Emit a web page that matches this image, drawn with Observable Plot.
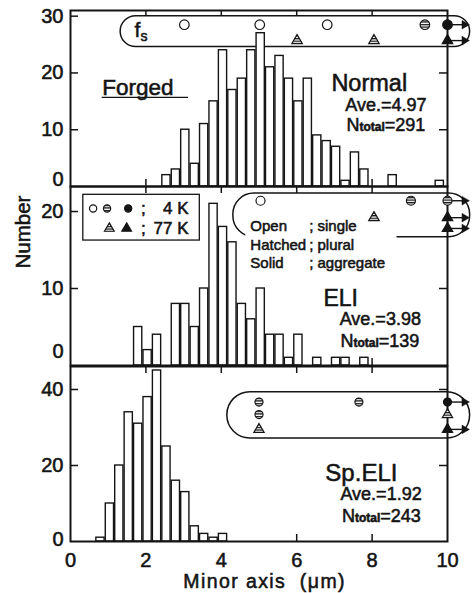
<!DOCTYPE html>
<html>
<head>
<meta charset="utf-8">
<script src="https://cdn.jsdelivr.net/npm/d3@7"></script>
<script src="https://cdn.jsdelivr.net/npm/@observablehq/plot@0.6"></script>
<style>
html,body{margin:0;padding:0;background:#fff;}
#chart{position:relative;width:473px;height:593px;overflow:hidden;background:#fff;}
#chart svg{position:absolute;left:0;overflow:visible;background:transparent;}
</style>
</head>
<body>
<div id="chart"></div>
<script>
// ---------------- data ----------------
const binWidth = 0.25;
const xTicks = [0, 2, 4, 6, 8, 10];

const normalBins   = [2.42,2.67,2.92,3.17,3.42,3.67,3.92,4.17,4.42,4.67,4.92,5.17,5.42,5.67,5.92,6.17,6.42,6.67,6.92,7.17,7.42,7.67,8.42,9.67];
const normalCounts = [2,   3,   10,  4,   11,  15,  24,  17,  19,  24,  27,  21,  23,  19,  15,  19,  9,   8,   7,   1,   6,   3,   2,   1];

const eliBins   = [1.67,1.92,2.17,2.67,2.92,3.17,3.42,3.67,3.92,4.17,4.42,4.67,4.92,5.17,5.42,5.67,5.92,6.42,6.92,7.17,7.67];
const eliCounts = [5,   2,   4,   8,   8,   5,   10,  21,  18,  16,  8,   6,   10,  4,   4,   1,   4,   1,   1,   1,   1];

const spBins   = [0.67,0.92,1.17,1.42,1.67,1.92,2.17,2.42,2.67,2.92,3.17,3.42,3.67,3.92];
const spCounts = [1,   10,  20,  34,  31,  38,  45,  25,  16,  13,  4,   2,   1,   2];

const normalYTicks = [0, 10, 20, 30];
const eliYTicks = [0, 10, 20];
const spYTicks = [0, 20, 40];

const panelNames = ["Normal", "ELI", "Sp.ELI"];
const panelAve = ["Ave.=4.97", "Ave.=3.98", "Ave.=1.92"];
const panelNtotal = ["Ntotal=291", "Ntotal=139", "Ntotal=243"];

// fracture-strain (fs) markers: x = minor axis, row = level inside the band
const normalMarks = [
  {x: 3.02, row: 28.5, kind: "open", shape: "circle"},
  {x: 5.02, row: 28.5, kind: "open", shape: "circle"},
  {x: 6.81, row: 28.5, kind: "open", shape: "circle"},
  {x: 9.40, row: 28.5, kind: "hatched", shape: "circle"},
  {x: 10.0, row: 28.5, kind: "solid", shape: "circle", arrow: true},
  {x: 6.01, row: 25.7, kind: "hatched", shape: "triangle"},
  {x: 8.05, row: 25.7, kind: "hatched", shape: "triangle"},
  {x: 10.0, row: 25.7, kind: "solid", shape: "triangle", arrow: true}
];
const eliMarks = [
  {x: 5.04, row: 21.4, kind: "open", shape: "circle"},
  {x: 9.03, row: 21.4, kind: "hatched", shape: "circle"},
  {x: 10.0, row: 21.4, kind: "hatched", shape: "circle", arrow: true},
  {x: 8.05, row: 19.2, kind: "hatched", shape: "triangle"},
  {x: 10.0, row: 19.2, kind: "solid", shape: "triangle", arrow: true},
  {x: 10.0, row: 17.8, kind: "solid", shape: "triangle", arrow: true}
];
const spMarks = [
  {x: 5.0, row: 36.7, kind: "hatched", shape: "circle"},
  {x: 5.0, row: 33.4, kind: "hatched", shape: "circle"},
  {x: 5.0, row: 29.5, kind: "hatched", shape: "triangle"},
  {x: 7.65, row: 36.7, kind: "hatched", shape: "circle"},
  {x: 10.0, row: 36.7, kind: "solid", shape: "circle", arrow: true},
  {x: 10.0, row: 33.4, kind: "hatched", shape: "triangle"},
  {x: 10.0, row: 29.5, kind: "solid", shape: "triangle", arrow: true}
];
const keyMarks = [
  {x: 0.60, row: 20.4, kind: "open", shape: "circle"},
  {x: 0.97, row: 20.4, kind: "hatched", shape: "circle"},
  {x: 1.53, row: 20.4, kind: "solid", shape: "circle"},
  {x: 1.03, row: 17.8, kind: "hatched", shape: "triangle"},
  {x: 1.49, row: 17.8, kind: "solid", shape: "triangle"}
];
const keyRows = [20.4, 17.8];
const keyLabels = ["4 K", "77 K"];
const typeNames = ["Open", "Hatched", "Solid"];
const typeMeanings = ["; single", "; plural", "; aggregate"];
const typeRows = [17.5, 15.05, 12.6];

// ---------------- drawing ----------------
const FONT = '"Liberation Sans", Arial, Helvetica, sans-serif';
const INK = "#141414";
const HATCH = "#fe01fe"; // placeholder replaced by a line pattern
const PXU = 37.7;        // px per x unit (for tick lengths)

function markerMarks(data, rc, rt) {
  const marks = [];
  const arrows = data.filter(d => d.arrow);
  if (arrows.length) {
    marks.push(Plot.link(arrows, {x1: "x", x2: d => d.x + 0.40, y1: "row", y2: "row", stroke: INK, strokeWidth: 1.4}));
    marks.push(Plot.dot(arrows, {x: d => d.x + 0.45, y: "row", symbol: "triangle", rotate: 90, r: 3.2, fill: INK, stroke: INK, strokeWidth: 0.5}));
  }
  for (const shape of ["circle", "triangle"]) for (const kind of ["open", "hatched", "solid"]) {
    const sub = data.filter(d => d.shape === shape && d.kind === kind);
    if (!sub.length) continue;
    marks.push(Plot.dot(sub, {
      x: "x", y: "row", symbol: shape, r: shape === "circle" ? rc : rt,
      fill: kind === "open" ? "white" : kind === "solid" ? INK : HATCH,
      stroke: INK, strokeWidth: 1.2
    }));
  }
  return marks;
}

function statText(i, x1, yName, x2, yAve, x3, yN, nameSize) {
  return [
    Plot.text([panelNames[i]], {x: x1, y: yName, text: d => d, textAnchor: "start", lineAnchor: "bottom", fontSize: nameSize, fill: INK}),
    Plot.text([panelAve[i]], {x: x2, y: yAve, text: d => d, textAnchor: "start", lineAnchor: "bottom", fontSize: 18, fill: INK}),
    Plot.text([panelNtotal[i]], {x: x3, y: yN, text: d => d, textAnchor: "start", lineAnchor: "bottom", fontSize: 18, fill: INK})
  ];
}

function makePanel(p) {
  const ph = p.height - p.mt - p.mb;
  const ky = 7 * p.ymax / ph;
  const kx = 8 / PXU;
  const bars = p.bins.map((b, i) => ({bin: b, count: p.counts[i]}));
  const inner = p.yTicks.filter(t => t > 0);
  const xin = xTicks.filter(t => t > 0 && t < 10);
  const svg = Plot.plot({
    width: 473, height: p.height,
    marginLeft: 70, marginRight: 26, marginTop: p.mt, marginBottom: p.mb,
    x: {domain: [0, 10], axis: null},
    y: {domain: [0, p.ymax], axis: null},
    style: {background: "transparent", overflow: "visible", fontFamily: FONT, color: INK},
    marks: [
      Plot.ruleY(inner, {y: d => d, x1: 0, x2: kx, stroke: INK, strokeWidth: 1.5}),
      Plot.ruleY(inner, {y: d => d, x1: 10 - kx, x2: 10, stroke: INK, strokeWidth: 1.5}),
      Plot.ruleX(xin, {x: d => d, y1: 0, y2: ky, stroke: INK, strokeWidth: 1.5}),
      Plot.ruleX(xin, {x: d => d, y1: p.ymax - ky, y2: p.ymax, stroke: INK, strokeWidth: 1.5}),
      ...p.under,
      Plot.rect(bars, {x1: "bin", x2: d => d.bin + binWidth, y1: 0, y2: "count",
        fill: "white", stroke: INK, strokeWidth: 1.4, insetLeft: 0.6, insetRight: 0.6}),
      Plot.frame({stroke: INK, strokeWidth: 2}),
      ...p.over,
      Plot.text(inner, {y: d => d, text: d => String(d), frameAnchor: "left", lineAnchor: "middle", dx: -7, textAnchor: "end", fontSize: 20, fill: INK}),
      Plot.text([0], {y: 0, text: d => String(d), frameAnchor: "left", lineAnchor: "middle", dx: -7, dy: p.zeroDy, textAnchor: "end", fontSize: 20, fill: INK})
    ]
  });
  // hatch pattern
  const ns = "http://www.w3.org/2000/svg";
  const defs = document.createElementNS(ns, "defs");
  defs.innerHTML = `<pattern id="${p.id}" patternUnits="userSpaceOnUse" width="4" height="2.6">
    <rect width="4" height="2.6" fill="white"/><rect width="4" height="1.3" fill="${INK}"/></pattern>`;
  svg.insertBefore(defs, svg.firstChild);
  svg.querySelectorAll(`[fill="${HATCH}"]`).forEach(el => el.setAttribute("fill", `url(#${p.id})`));
  // rich text + heavier strokes to match the printed figure
  svg.querySelectorAll("text").forEach(t => {
    const s = t.textContent;
    t.setAttribute("stroke", INK);
    t.setAttribute("stroke-width", "0.55");
    if (s.startsWith("Ntotal=")) {
      t.textContent = "";
      const a = document.createElementNS(ns, "tspan"); a.textContent = "N";
      const b = document.createElementNS(ns, "tspan"); b.textContent = "total";
      b.setAttribute("font-size", "12"); b.setAttribute("font-weight", "bold");
      const c = document.createElementNS(ns, "tspan"); c.textContent = s.slice(6);
      t.append(a, b, c);
    } else if (s === "fs") {
      t.textContent = "";
      const a = document.createElementNS(ns, "tspan"); a.textContent = "f";
      const b = document.createElementNS(ns, "tspan"); b.textContent = "s";
      b.setAttribute("font-size", "14"); b.setAttribute("dy", "4");
      t.append(a, b);
    } else if (s.startsWith("Minor axis")) {
      t.setAttribute("letter-spacing", "1.4");
    }
  });
  svg.style.top = p.top + "px";
  return svg;
}

const chart = document.getElementById("chart");

// Panel 1: Normal
chart.append(makePanel({
  id: "hatch1", bins: normalBins, counts: normalCounts, ymax: 31, yTicks: normalYTicks,
  top: 0, height: 187, mt: 10, mb: 1, zeroDy: -7,
  under: [
    Plot.rect([0], {x1: 1.33, x2: 10.6, y1: 24.55, y2: 30.0, rx: 15.5, fill: "white", stroke: INK, strokeWidth: 1.5})
  ],
  over: [
    ...markerMarks(normalMarks, 4.8, 3.9),
    Plot.text(["fs"], {x: 1.70, y: 26.25, text: d => d, textAnchor: "start", lineAnchor: "bottom", fontSize: 21, fill: INK}),
    Plot.text(["Forged"], {x: 0.84, y: 16.03, text: d => d, textAnchor: "start", lineAnchor: "bottom", fontSize: 22.5, fill: INK}),
    Plot.ruleY([15.7], {y: d => d, x1: 0.84, x2: 3.13, stroke: INK, strokeWidth: 1.4}),
    ...statText(0, 6.92, 16.9, 7.29, 13.3, 7.32, 9.7, 23.5)
  ]
}));

// Panel 2: ELI
chart.append(makePanel({
  id: "hatch2", bins: eliBins, counts: eliCounts, ymax: 23.25, yTicks: eliYTicks,
  top: 186, height: 180, mt: 0, mb: 1, zeroDy: -14,
  under: [
    Plot.rect([0], {x1: 4.32, x2: 10.6, y1: 16.66, y2: 22.34, rx: 21, fill: "white", stroke: INK, strokeWidth: 1.5}),
    Plot.rect([0], {x1: 4.65, x2: 8.66, y1: 15.9, y2: 17.4, fill: "white"})
  ],
  over: [
    ...markerMarks(eliMarks, 4.5, 3.9),
    Plot.text(typeNames, {x: 4.77, y: (d, i) => typeRows[i], text: d => d, textAnchor: "start", lineAnchor: "bottom", fontSize: 15, fill: INK}),
    Plot.text(typeMeanings, {x: 6.33, y: (d, i) => typeRows[i], text: d => d, textAnchor: "start", lineAnchor: "bottom", fontSize: 15, fill: INK}),
    Plot.rect([0], {x1: 0.34, x2: 3.43, y1: 16.23, y2: 22.17, fill: "white", stroke: INK, strokeWidth: 1.3}),
    ...markerMarks(keyMarks, 3.6, 3.6),
    Plot.text(keyRows, {x: 1.93, y: d => d, text: () => ";", fontSize: 17, fill: INK}),
    Plot.text(keyLabels, {x: 3.13, y: (d, i) => keyRows[i], text: d => d, textAnchor: "end", fontSize: 17, fill: INK}),
    ...statText(1, 6.71, 7.79, 7.14, 5.2, 7.16, 2.38, 23),
    Plot.text(["Number"], {frameAnchor: "left", dx: -47, y: 12.6, text: d => d, rotate: -90, fontSize: 20.5, fill: INK})
  ]
}));

// Panel 3: Sp.ELI
chart.append(makePanel({
  id: "hatch3", bins: spBins, counts: spCounts, ymax: 46.05, yTicks: spYTicks,
  top: 366, height: 227, mt: 0, mb: 52, zeroDy: -2,
  under: [
    Plot.rect([0], {x1: 4.16, x2: 10.6, y1: 27.1, y2: 39.3, rx: 23, fill: "white", stroke: INK, strokeWidth: 1.5})
  ],
  over: [
    ...markerMarks(spMarks, 4.0, 3.8),
    ...statText(2, 6.76, 16.05, 7.16, 10.8, 7.2, 5.08, 24),
    Plot.text(xTicks, {x: d => d, frameAnchor: "bottom", lineAnchor: "middle", dy: 19, text: d => String(d), fontSize: 20, fill: INK}),
    Plot.text(["Minor axis  (μm)"], {x: 5.15, frameAnchor: "bottom", lineAnchor: "middle", dy: 40, text: d => d, fontSize: 19.5, fill: INK})
  ]
}));
</script>
</body>
</html>
